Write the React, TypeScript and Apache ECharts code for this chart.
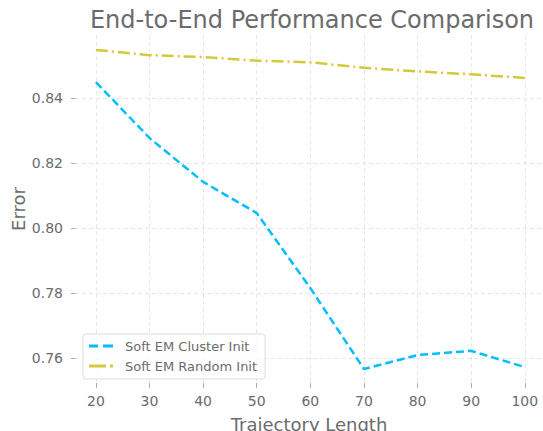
import React, { useEffect, useRef } from "react";
import * as echarts from "echarts";

const trajectoryLengths = [20, 30, 40, 50, 60, 70, 80, 90, 100];
const clusterInit = [0.8449, 0.8277, 0.8142, 0.8046, 0.7815, 0.7566, 0.7609, 0.7622, 0.7572];
const randomInit = [0.8548, 0.8532, 0.8526, 0.8515, 0.8510, 0.8493, 0.8482, 0.8473, 0.8462];
const xTicks = [20, 30, 40, 50, 60, 70, 80, 90, 100];
const yTicks = [0.76, 0.78, 0.8, 0.82, 0.84];

const FONT = "DejaVu Sans";
const GRAY = "#6b6b6b";
const BLUE = "#00bfff";
const OLIVE = "#d4c93c";

const dashedIcon = "path://M0,0h9v3H0z M14,0h10v3H14z";
const dashDotIcon = "path://M0,0h17v3H0z M21,0h3v3H21z";

export default function App() {
  const ref = useRef<HTMLDivElement>(null);
  useEffect(() => {
    if (!ref.current) return;
    const chart = echarts.init(ref.current, undefined, { renderer: "svg" });
    const pair = (ys: number[]) => trajectoryLengths.map((x, i) => [x, ys[i]]);
    chart.setOption({
      animation: false,
      backgroundColor: "#ffffff",
      textStyle: { fontFamily: FONT },
      title: {
        text: "End-to-End Performance Comparison",
        left: 307,
        top: 3,
        textAlign: "center",
        textStyle: { fontFamily: FONT, fontSize: 24, fontWeight: "normal", color: GRAY },
      },
      grid: { left: 75, right: 0, top: 35, bottom: 48, containLabel: false, outerBoundsMode: "none" },
      legend: {
        left: 83,
        top: 334,
        orient: "vertical",
        itemGap: 6,
        itemWidth: 24,
        itemHeight: 3,
        padding: [5, 8, 6, 6],
        borderColor: "#dddddd",
        borderWidth: 1,
        borderRadius: 3,
        backgroundColor: "rgba(255,255,255,0.8)",
        textStyle: { fontFamily: FONT, fontSize: 13, color: GRAY, lineHeight: 14, padding: [0, 0, 0, 7] },
        data: [
          { name: "Soft EM Cluster Init", icon: dashedIcon, itemStyle: { color: BLUE } },
          { name: "Soft EM Random Init", icon: dashDotIcon, itemStyle: { color: OLIVE } },
        ],
      },
      xAxis: {
        type: "value",
        min: 16.1,
        max: 103.4,
        name: "Trajectory Length",
        nameLocation: "middle",
        nameMoveOverlap: false,
        nameGap: 32,
        nameTextStyle: { fontFamily: FONT, fontSize: 18, color: GRAY },
        axisLine: { show: false },
        axisTick: { show: true, customValues: xTicks, length: 5, lineStyle: { color: "#aaaaaa" } },
        axisLabel: {
          customValues: xTicks,
          fontFamily: FONT,
          fontSize: 14,
          color: GRAY,
          margin: 11,
        },
        splitLine: { show: true, lineStyle: { color: "#e6e6e6", type: [4, 3], width: 1 } },
      },
      yAxis: {
        type: "value",
        min: 0.7523,
        max: 0.8594,
        name: "Error",
        nameLocation: "middle",
        nameMoveOverlap: false,
        nameGap: 48,
        nameTextStyle: { fontFamily: FONT, fontSize: 18, color: GRAY },
        axisLine: { show: false },
        axisTick: { show: true, customValues: yTicks, length: 4, lineStyle: { color: "#aaaaaa" } },
        axisLabel: {
          customValues: yTicks,
          fontFamily: FONT,
          fontSize: 14,
          color: GRAY,
          margin: 12,
          formatter: (v: number) => v.toFixed(2),
        },
        splitLine: { show: true, lineStyle: { color: "#e6e6e6", type: [4, 3], width: 1 } },
      },
      series: [
        {
          name: "Soft EM Cluster Init",
          type: "line",
          data: pair(clusterInit),
          showSymbol: false,
          symbol: "none",
          color: BLUE,
          lineStyle: { color: BLUE, width: 2.5, type: [8, 4] },
        },
        {
          name: "Soft EM Random Init",
          type: "line",
          data: pair(randomInit),
          showSymbol: false,
          symbol: "none",
          color: OLIVE,
          lineStyle: { color: OLIVE, width: 2.5, type: [12, 4, 2, 4] },
        },
      ],
    });
    return () => chart.dispose();
  }, []);
  return (
    <div
      ref={ref}
      style={{ position: "fixed", left: 0, top: 0, width: 543, height: 431 }}
    />
  );
}
